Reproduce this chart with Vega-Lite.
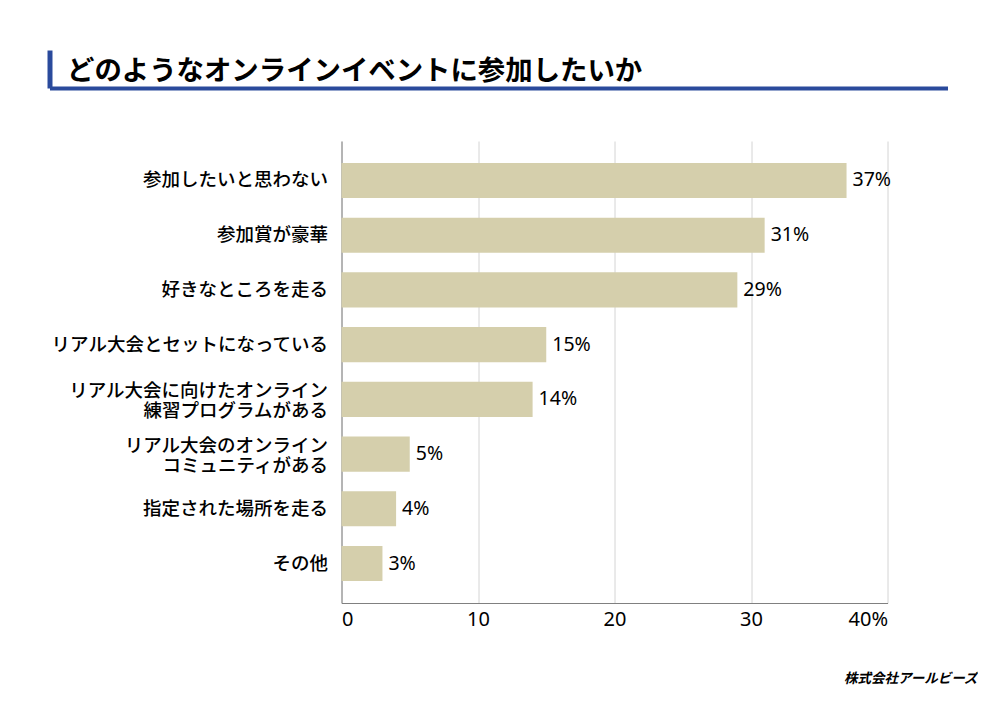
{
  "$schema": "https://vega.github.io/schema/vega-lite/v6.json",
  "padding": {"left": 47.5, "top": 50, "right": 0, "bottom": 0},
  "background": "white",
  "spacing": 50,
  "config": {
    "font": "Noto Sans CJK JP",
    "view": {"stroke": null}
  },
  "vconcat": [
    {
      "width": 606,
      "height": 38,
      "data": {"values": [{"v": 0}]},
      "mark": {"type": "point", "opacity": 0},
      "encoding": {
        "x": {
          "field": "v", "type": "quantitative",
          "scale": {"domain": [0, 1]},
          "axis": {
            "domainColor": "#2a4a9c", "domainWidth": 4, "ticks": false, "labels": false, "grid": false,
            "title": "どのようなオンラインイベントに参加したいか",
            "titleX": -275, "titleY": -9, "titleAlign": "left", "titleAnchor": "start", "titleBaseline": "alphabetic",
            "titleFontSize": 27.4, "titleFontWeight": "bold", "titleColor": "#000000"
          }
        },
        "y": {
          "field": "v", "type": "quantitative",
          "scale": {"domain": [0, 1]},
          "axis": {
            "offset": 292, "domainColor": "#2a4a9c", "domainWidth": 5,
            "values": [0], "ticks": true, "tickSize": -292, "tickWidth": 4, "tickColor": "#2a4a9c",
            "labels": false, "grid": false, "title": null
          }
        }
      }
    },
    {
      "width": 546,
      "height": 462,
      "title": {
        "text": "株式会社アールビーズ",
        "orient": "bottom",
        "anchor": "end",
        "frame": "group",
        "dx": 90,
        "offset": 54,
        "baseline": "alphabetic",
        "fontSize": 13.5,
        "fontWeight": "bold",
        "fontStyle": "italic",
        "color": "#000000"
      },
      "data": {
        "values": [
          {"item": "参加したいと思わない", "pct": 37},
          {"item": "参加賞が豪華", "pct": 31},
          {"item": "好きなところを走る", "pct": 29},
          {"item": "リアル大会とセットになっている", "pct": 15},
          {"item": "リアル大会に向けたオンライン\n練習プログラムがある", "pct": 14},
          {"item": "リアル大会のオンライン\nコミュニティがある", "pct": 5},
          {"item": "指定された場所を走る", "pct": 4},
          {"item": "その他", "pct": 3}
        ]
      },
      "transform": [{"calculate": "datum.pct + '%'", "as": "label"}],
      "encoding": {
        "y": {
          "field": "item", "type": "nominal", "sort": null,
          "scale": {"paddingInner": 0.36, "paddingOuter": 0.4},
          "axis": {
            "title": null, "ticks": false, "domainColor": "#808080", "domainWidth": 1,
            "labelFontSize": 18.5, "labelFontWeight": 500, "labelColor": "#000000",
            "labelPadding": 14, "labelLimit": 400, "labelLineHeight": 20,
            "labelOffset": {"condition": {"test": "indexof(datum.value, '\\n') >= 0", "value": -8}, "value": 0},
            "labelExpr": "split(datum.value, '\\n')"
          }
        },
        "x": {
          "field": "pct", "type": "quantitative",
          "scale": {"domain": [0, 40]},
          "axis": {
            "title": null, "values": [0, 10, 20, 30, 40], "ticks": false,
            "domainColor": "#808080", "domainWidth": 1,
            "gridColor": "#d4d4d4", "gridWidth": 1,
            "labelFont": "Noto Sans", "labelFontSize": 20, "labelColor": "#000000", "labelPadding": 6,
            "labelExpr": "datum.value == 40 ? '40%' : datum.label"
          }
        }
      },
      "layer": [
        {"mark": {"type": "bar", "color": "#d5cfac"}},
        {
          "mark": {"type": "text", "align": "left", "dx": 6, "font": "Noto Sans", "fontSize": 19.5, "fontWeight": "normal", "color": "#000000"},
          "encoding": {"text": {"field": "label"}}
        }
      ]
    }
  ]
}
